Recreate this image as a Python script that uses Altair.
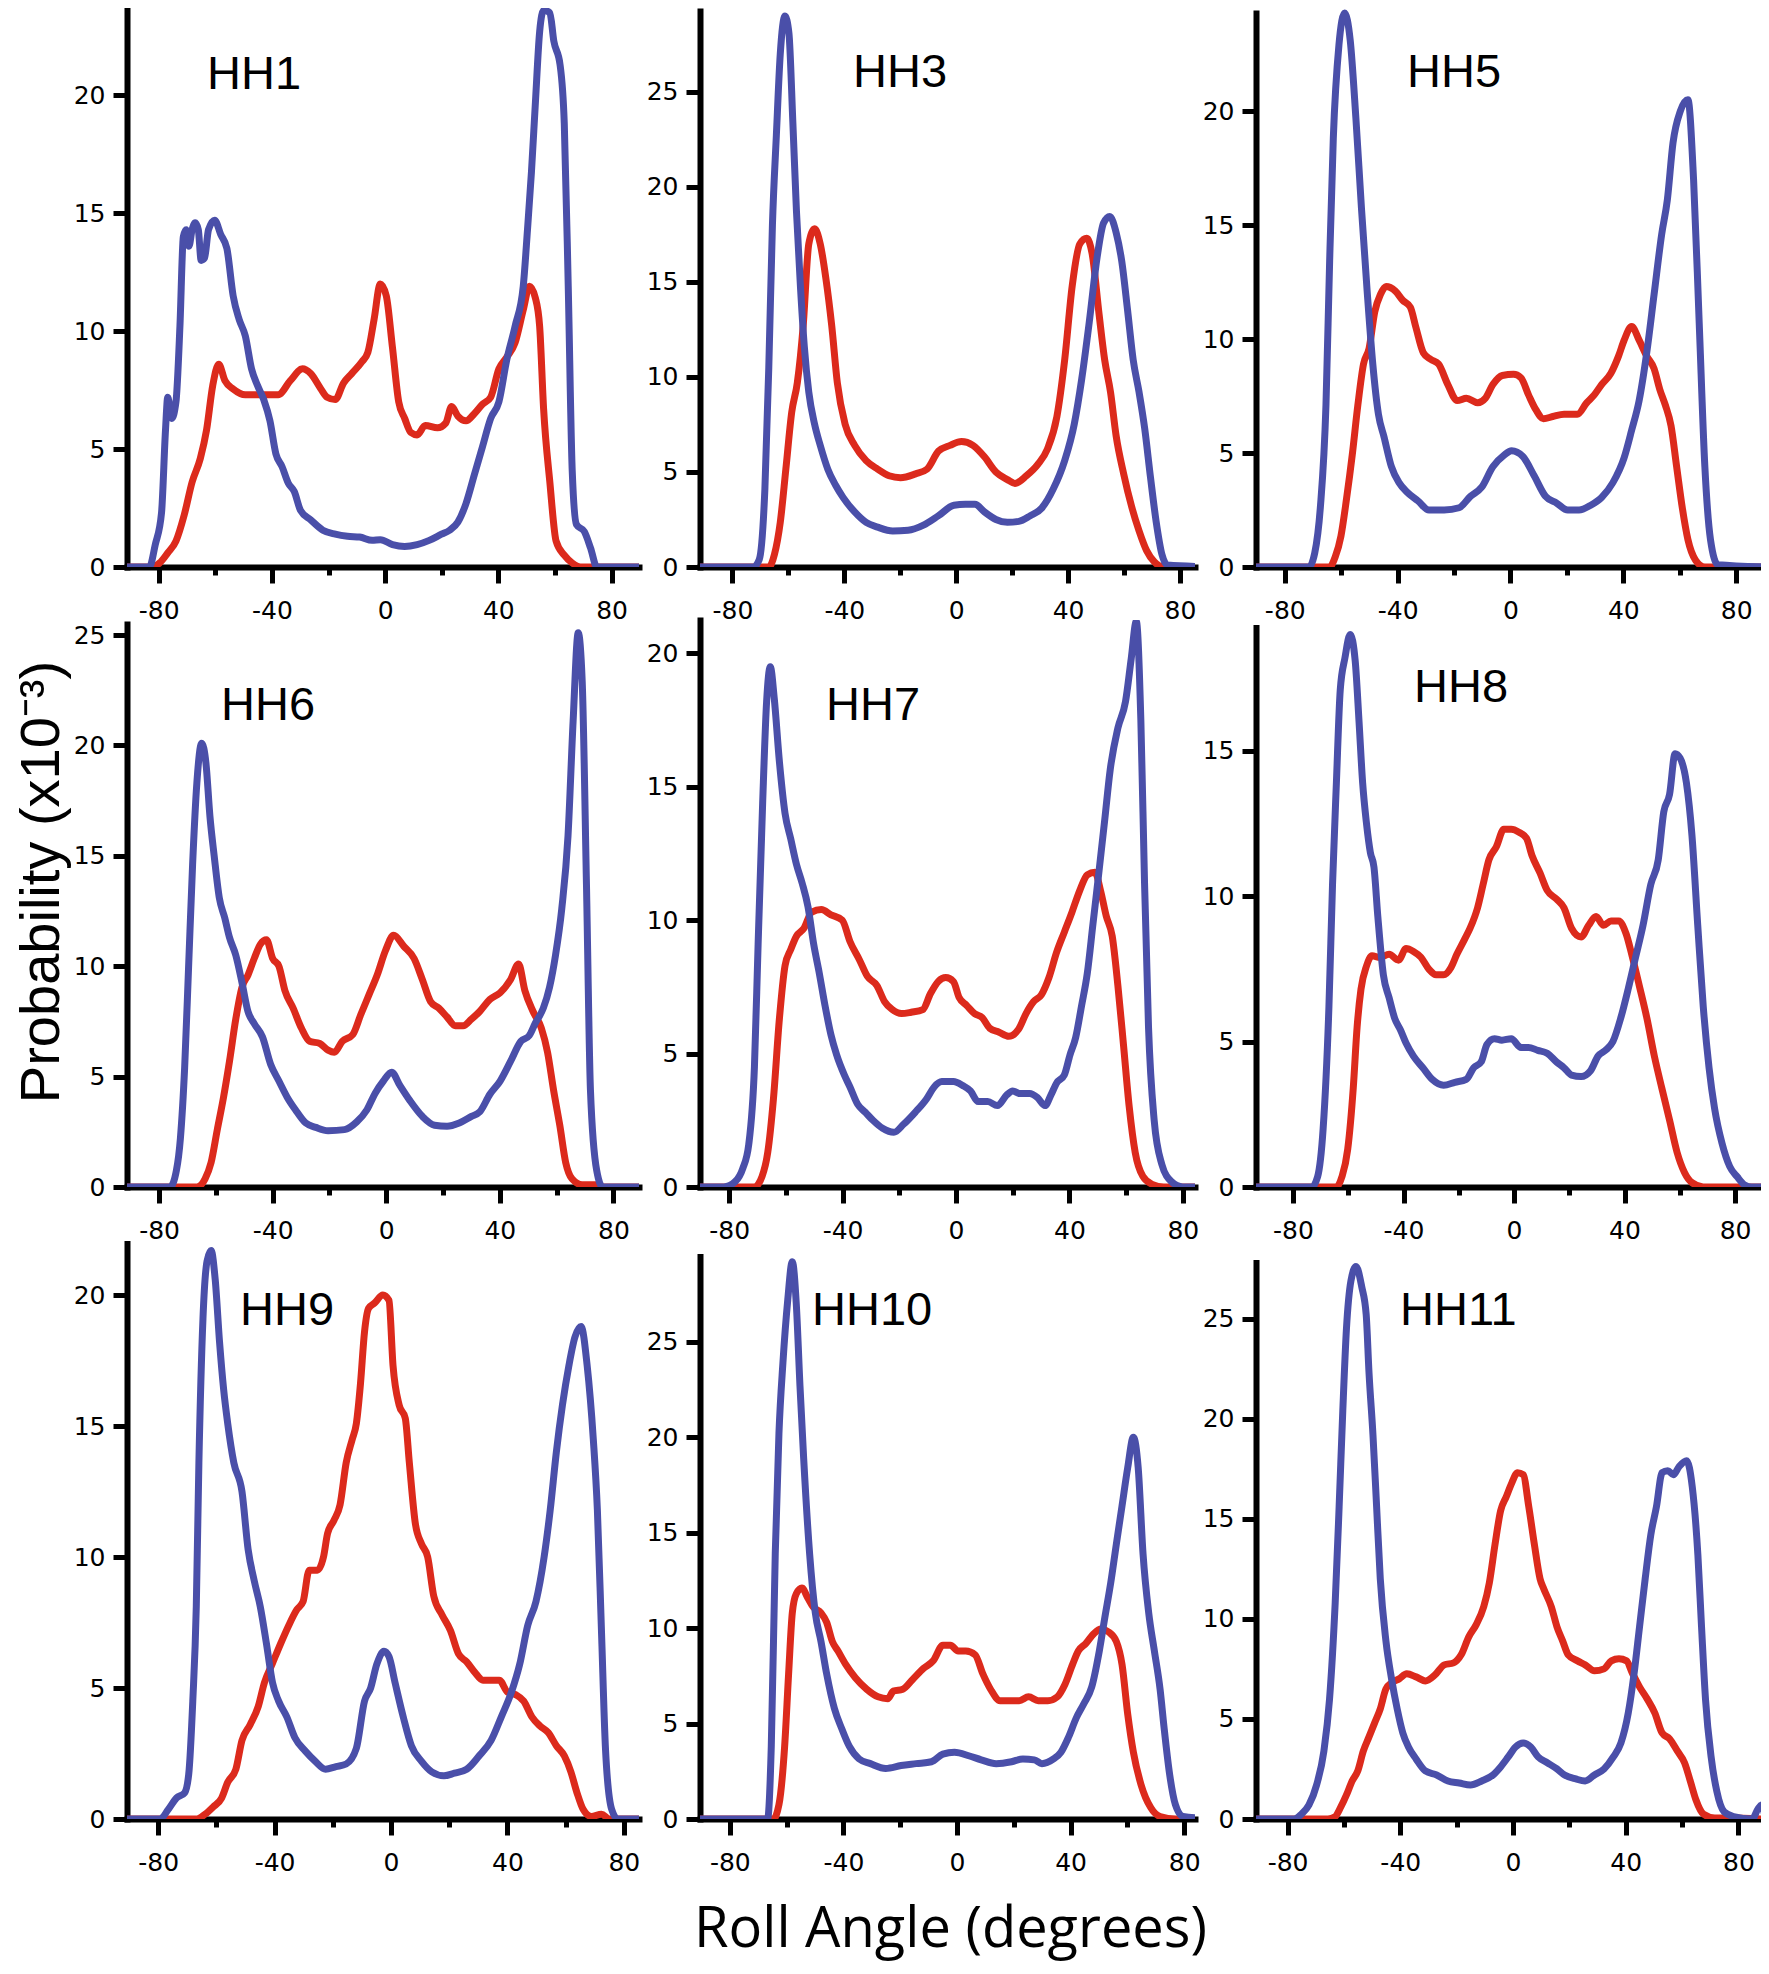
import altair as alt
import pandas as pd

# ---------------- data (roll angle in degrees, probability x10^-3) ----------------
hh1_blue_x = [-92, -83.3, -81.2, -79, -77.6, -76.8, -75.4, -73.9, -72.5, -71.3, -70.3, -69.3, -68.2, -67.1, -66, -65, -63.8, -62.4, -60.2, -58.1, -55.9, -53.7, -51.6, -49.4, -47.2, -45.1, -42.9, -40.7, -38.6, -36.4, -34.2, -32.1, -29.9, -26.3, -22, -17.6, -13.3, -9, -4.6, -1.7, 2.6, 6.9, 11.3, 15.6, 19.9, 22.8, 25.7, 28.6, 31.5, 34.4, 37.3, 40.2, 43, 45.9, 48.8, 50.3, 51.7, 53.1, 54.6, 56, 58.2, 59.6, 61.8, 63.3, 64.7, 66.1, 67.6, 70.4, 72.6, 74.8, 92]
hh1_blue_y = [0, 0, 0.95, 2.3, 5.8, 7.2, 6.3, 7.0, 10.2, 14.0, 14.3, 13.6, 14.3, 14.6, 14.3, 13.0, 13.1, 14.3, 14.7, 14.1, 13.5, 11.5, 10.5, 9.8, 8.4, 7.7, 7.1, 6.2, 4.8, 4.25, 3.55, 3.2, 2.4, 2.0, 1.56, 1.39, 1.3, 1.27, 1.13, 1.16, 0.95, 0.87, 0.95, 1.13, 1.39, 1.56, 1.9, 2.7, 3.9, 5.1, 6.3, 7.0, 8.8, 10.2, 11.9, 14.3, 16.75, 19.7, 22.7, 23.6, 23.5, 22.3, 21.3, 18.8, 11.9, 4.1, 1.8, 1.5, 0.8, 0, 0]
hh1_red_x = [-92, -82.6, -79.7, -76.8, -73.9, -71, -68.2, -65.3, -63.1, -60.9, -58.8, -56.6, -53.7, -49.4, -43.6, -37.8, -33.5, -29.2, -26.3, -22.7, -20.5, -17.6, -14.7, -11.8, -8.2, -6.1, -3.9, -1.7, 0.4, 2.6, 4.8, 6.9, 9.1, 11.3, 14.2, 18.5, 21.4, 23.5, 25.7, 28.6, 31.5, 34.4, 37.3, 40.2, 43, 45.9, 48.8, 51, 53.1, 54.6, 56, 58.2, 60.4, 63.3, 66.1, 69, 92]
hh1_red_y = [0, 0, 0.17, 0.6, 1.1, 2.2, 3.6, 4.6, 5.8, 7.7, 8.6, 7.9, 7.55, 7.3, 7.3, 7.3, 7.9, 8.4, 8.2, 7.55, 7.2, 7.1, 7.8, 8.2, 8.7, 9.1, 10.5, 12.0, 11.5, 9.3, 7.0, 6.3, 5.7, 5.6, 6.0, 5.9, 6.1, 6.8, 6.4, 6.2, 6.5, 6.9, 7.2, 8.4, 8.9, 9.5, 10.9, 11.9, 11.4, 10.2, 6.7, 3.6, 1.1, 0.5, 0.17, 0, 0]

hh3_blue_x = [-92, -72.5, -70.4, -68.4, -67, -65.7, -64.3, -62.9, -61.2, -59.8, -58.4, -57.1, -55.7, -54.3, -52.7, -50.6, -48.6, -45.9, -43.1, -40.4, -36.3, -32.2, -28.1, -22.7, -17.2, -11.7, -6.3, -0.8, 3.3, 6.7, 10.1, 14.2, 18.3, 22.4, 26.5, 30.6, 34.7, 38.8, 42.2, 44.9, 47.6, 50.4, 52.7, 54.9, 57.2, 59.2, 61.3, 63.3, 65.4, 67.4, 69.5, 71.5, 73.6, 75.6, 92]
hh3_blue_y = [0, 0, 0.4, 4.1, 10.5, 18, 22.7, 27, 29, 28.1, 23.4, 18.7, 14.8, 11.6, 9.2, 7.5, 6.4, 5.15, 4.3, 3.65, 2.9, 2.35, 2.1, 1.9, 1.93, 2.2, 2.7, 3.25, 3.3, 3.3, 2.9, 2.5, 2.35, 2.4, 2.7, 3.1, 4.1, 5.6, 7.5, 9.9, 12.9, 16.3, 18.1, 18.45, 17.6, 16.1, 13.5, 10.9, 9.2, 7.3, 4.7, 2.4, 0.65, 0.1, 0]
hh3_red_x = [-92, -67, -65, -62.9, -60.9, -58.8, -56.8, -54.7, -52.7, -50.6, -48.6, -46.6, -44.5, -42.5, -39.7, -36.3, -32.2, -28.1, -24, -19.9, -14.5, -10.4, -6.3, -2.2, 1.9, 6, 10.1, 14.2, 18.3, 21, 25.1, 29.2, 32.6, 36, 38.8, 41.5, 44.2, 46.7, 48.6, 51.1, 53.1, 55.2, 57.2, 59.9, 62.7, 65.4, 68.1, 70.9, 74.3, 92]
hh3_red_y = [0, 0, 0.65, 2.35, 5.15, 8.15, 9.7, 12.7, 17, 17.8, 17, 15.2, 12.7, 9.7, 7.5, 6.4, 5.6, 5.15, 4.8, 4.7, 4.9, 5.15, 6.1, 6.4, 6.6, 6.4, 5.8, 5.0, 4.6, 4.4, 4.8, 5.4, 6.2, 7.9, 10.9, 14.8, 17.0, 17.3, 16.5, 13.3, 10.9, 9.2, 6.9, 4.9, 3.2, 1.9, 0.86, 0.26, 0, 0]

hh5_blue_x = [-92, -71.4, -69.4, -67.4, -65.4, -64.1, -62.8, -60.8, -58.8, -56.8, -54.8, -52.8, -50.8, -48.8, -46.8, -44.8, -42.2, -39.5, -36.8, -32.8, -28.9, -23.5, -18.2, -14.2, -10.2, -6.25, -2.3, 0.4, 4.4, 8.4, 12.4, 16.4, 20.3, 24.3, 28.3, 32.3, 36.3, 40.3, 42.95, 45.6, 48.3, 50.9, 53.6, 55.6, 57.6, 60.2, 62.9, 64.9, 66.9, 68.9, 70.9, 73.5, 92]
hh5_blue_y = [0, 0, 0.6, 2.6, 7.1, 13.4, 18.8, 22.9, 24.3, 23.1, 19.7, 15.7, 12.1, 8.9, 6.7, 5.7, 4.4, 3.7, 3.3, 2.9, 2.5, 2.5, 2.6, 3.1, 3.5, 4.4, 4.9, 5.1, 4.85, 4.0, 3.1, 2.8, 2.5, 2.5, 2.7, 3.05, 3.7, 4.8, 6.0, 7.3, 9.4, 11.95, 14.6, 16.1, 18.6, 20, 20.5, 17, 10.7, 4.4, 1.2, 0.1, 0]
hh5_red_x = [-92, -64.1, -62.1, -60.1, -58.1, -56.1, -54.1, -52.1, -50.1, -48.1, -46.1, -44.1, -40.8, -38.2, -35.5, -33.5, -30.9, -28.2, -25.5, -22.2, -18.9, -15.6, -11.6, -8.9, -6.25, -2.9, 1.1, 3.7, 6.4, 9, 11.7, 15, 19, 23.7, 27, 29.7, 32.3, 35.6, 38.3, 40.3, 42.95, 45.6, 48.3, 50.9, 52.9, 54.9, 56.9, 58.9, 60.9, 62.9, 65.6, 68.9, 92]
hh5_red_y = [0, 0, 0.45, 1.35, 3.0, 4.9, 7.1, 8.9, 9.6, 11.2, 11.95, 12.3, 12.1, 11.7, 11.4, 10.5, 9.4, 9.1, 8.9, 8.0, 7.3, 7.4, 7.2, 7.4, 8.0, 8.4, 8.45, 8.3, 7.55, 6.9, 6.5, 6.6, 6.7, 6.7, 7.2, 7.55, 8.0, 8.5, 9.25, 9.95, 10.55, 9.95, 9.25, 8.7, 7.8, 7.1, 6.2, 4.4, 2.6, 1.2, 0.3, 0, 0]

hh6_blue_x = [-92, -76.1, -73.9, -72.5, -71, -69.6, -68.2, -66.7, -65, -63.5, -62.1, -60.6, -58.8, -56.9, -55.2, -53, -50.8, -48.7, -46.5, -43.6, -40.7, -37.8, -34.9, -32, -28.4, -24.8, -20.5, -14.7, -10.4, -6.8, -3.9, -1, 1.9, 4.8, 8.4, 12.7, 17, 21.4, 25.7, 30, 32.9, 36.5, 40.1, 43.8, 47.4, 50.3, 52.4, 55.3, 57.5, 59.6, 61.8, 64, 65.8, 67.6, 69, 70.5, 71.9, 74.1, 76.2, 92]
hh6_blue_y = [0, 0, 0.75, 2.2, 5.4, 10, 14.6, 18.3, 20.1, 19.2, 16.8, 15, 13.1, 12.2, 11.3, 10.5, 9.25, 7.95, 7.4, 6.8, 5.55, 4.8, 4.07, 3.5, 2.9, 2.7, 2.55, 2.6, 2.95, 3.5, 4.25, 4.8, 5.2, 4.6, 3.9, 3.2, 2.8, 2.75, 2.9, 3.2, 3.4, 4.2, 4.8, 5.7, 6.6, 6.85, 7.4, 8.1, 9.05, 10.5, 12.6, 15.9, 21.1, 25.1, 22.9, 13.7, 4.4, 0.75, 0, 0]
hh6_red_x = [-92, -66.7, -63.8, -61.7, -59.5, -57.3, -55.2, -53, -50.8, -48.7, -46.5, -44.3, -42.2, -40, -37.8, -35.7, -32.8, -29.9, -27, -23.4, -20.5, -18.3, -15.5, -11.8, -9, -6.1, -3.2, -0.3, 2.6, 6.2, 9.8, 12.7, 15.6, 18.5, 21.4, 24.3, 27.1, 30, 32.9, 36.5, 40.1, 43.8, 46.6, 48.8, 51.7, 54.6, 56.8, 58.9, 61.1, 63.2, 65.4, 69, 74.8, 76, 92]
hh6_red_y = [0, 0, 0.37, 1.1, 2.6, 4.07, 5.7, 7.6, 9.05, 9.6, 10.35, 11, 11.2, 10.35, 10, 8.9, 8.1, 7.2, 6.6, 6.5, 6.2, 6.1, 6.6, 6.9, 7.8, 8.7, 9.6, 10.7, 11.4, 10.9, 10.35, 9.4, 8.4, 8.1, 7.7, 7.3, 7.3, 7.6, 7.95, 8.5, 8.8, 9.4, 10.1, 8.9, 7.95, 7.2, 6.1, 4.4, 2.8, 1.1, 0.37, 0.1, 0.1, 0, 0]

hh7_blue_x = [-92, -81.9, -77.9, -75.2, -73.1, -71.1, -69.8, -68.2, -66.8, -65.5, -64.1, -62.3, -60.3, -58.3, -56.3, -54.3, -52.2, -50.2, -48.2, -46.2, -44.1, -42.1, -39.4, -37.4, -34.7, -32, -29.3, -25.9, -21.9, -18.5, -14.4, -10.4, -7.7, -5, -0.9, 2.4, 5.1, 7.8, 11.2, 14.6, 17.9, 20, 22.7, 26, 28.7, 31.4, 33.5, 35.5, 38.2, 40.2, 42.2, 44.3, 46.3, 48.3, 50.3, 52.4, 54.4, 57.1, 59.8, 61.8, 63.6, 65.2, 66.5, 67.9, 69.9, 72.6, 76, 80, 92]
hh7_blue_y = [0, 0, 0.2, 0.7, 1.6, 4.5, 9.1, 14.4, 18.2, 19.5, 18.3, 15.95, 14, 13.05, 12.1, 11.4, 10.5, 9.1, 8.0, 6.8, 5.7, 4.95, 4.2, 3.75, 3.1, 2.8, 2.5, 2.2, 2.05, 2.35, 2.8, 3.3, 3.75, 3.95, 3.95, 3.8, 3.6, 3.2, 3.2, 3.05, 3.45, 3.6, 3.5, 3.5, 3.35, 3.05, 3.45, 3.9, 4.2, 4.95, 5.6, 6.8, 8.0, 9.85, 11.7, 13.7, 15.65, 17.2, 18.2, 19.8, 21.2, 17.5, 11.4, 6.0, 2.5, 0.85, 0.2, 0, 0]
hh7_red_x = [-92, -71.1, -68.4, -66.4, -64.4, -62.3, -60.3, -58.3, -56.3, -53.6, -50.9, -47.5, -44.1, -40.1, -37.4, -34, -31.3, -27.9, -25.2, -22.5, -19.2, -15.8, -11.7, -9, -6.3, -3.6, -0.9, 1.1, 3.8, 6.5, 9.2, 11.9, 15.2, 18.6, 22, 24.7, 27.4, 30.1, 32.8, 35.5, 38.2, 40.9, 43.6, 46.3, 49, 51, 53, 55.1, 57.1, 59.1, 61.1, 63.2, 65.9, 69.2, 73.3, 92]
hh7_red_y = [0, 0, 0.4, 1.3, 3.3, 6.3, 8.3, 8.9, 9.4, 9.7, 10.3, 10.4, 10.2, 10.0, 9.2, 8.5, 7.9, 7.55, 6.95, 6.65, 6.5, 6.55, 6.65, 7.25, 7.7, 7.85, 7.7, 7.1, 6.8, 6.5, 6.35, 5.95, 5.8, 5.65, 5.9, 6.5, 6.95, 7.2, 7.85, 8.8, 9.55, 10.3, 11.1, 11.7, 11.8, 11.1, 10.15, 9.4, 7.55, 5.3, 3.0, 1.3, 0.4, 0.1, 0, 0]

hh8_blue_x = [-94, -73.2, -71.1, -69.1, -67, -65.7, -64.3, -62.9, -61.2, -59.3, -57.5, -56.1, -54.8, -53.4, -52, -50.7, -49.3, -47.3, -45.2, -43.2, -41.1, -39.1, -36.4, -33, -29.6, -25.5, -21.4, -17.3, -14.6, -11.9, -9.8, -7.1, -4.4, -1, 2.5, 5.2, 8.6, 12, 15.4, 18.1, 20.8, 24.3, 27.7, 30.4, 33.1, 35.8, 38.6, 41.3, 44, 46.7, 49.5, 52.2, 54.2, 56.3, 58.3, 60.1, 62.4, 64.4, 66.5, 68.5, 70.6, 72.6, 75.3, 78.1, 80.8, 83.5, 86, 92]
hh8_blue_y = [0, 0, 0.35, 2.0, 6.2, 10.4, 13.9, 17.1, 18.2, 19.0, 18.1, 16.0, 13.9, 12.5, 11.5, 11, 9.3, 7.3, 6.5, 5.8, 5.4, 4.95, 4.5, 4.1, 3.7, 3.5, 3.6, 3.7, 4.1, 4.3, 4.9, 5.1, 5.05, 5.1, 4.8, 4.8, 4.7, 4.6, 4.3, 4.1, 3.85, 3.8, 4.0, 4.5, 4.7, 5.0, 5.8, 6.8, 7.9, 9.0, 10.4, 11.25, 12.9, 13.5, 14.9, 14.75, 13.9, 12.1, 9.0, 6.2, 4.1, 2.7, 1.5, 0.7, 0.35, 0.07, 0, 0]
hh8_red_x = [-94, -64.3, -62.3, -60.2, -58.2, -56.8, -55.4, -53.4, -51.4, -48.6, -45.2, -41.8, -39.1, -36.4, -33.7, -30.9, -28.2, -25.5, -22.8, -20.7, -18, -15.9, -13.2, -11.2, -9.1, -6.4, -3.7, -1, 1.8, 4.5, 6.5, 9.4, 12, 15.4, 18.1, 20.8, 24.3, 27, 29.7, 32.4, 35.1, 37.9, 40.6, 42.6, 45.4, 48.1, 50.8, 53.5, 56.3, 59, 61.7, 64.4, 68.5, 92]
hh8_red_y = [0, 0, 0.35, 1.3, 3.4, 5.5, 6.8, 7.6, 7.95, 7.9, 8.0, 7.8, 8.2, 8.1, 7.9, 7.5, 7.3, 7.3, 7.55, 8.0, 8.5, 8.9, 9.6, 10.4, 11.25, 11.7, 12.3, 12.3, 12.2, 12.0, 11.4, 10.8, 10.2, 9.9, 9.6, 8.9, 8.6, 9.0, 9.3, 9.0, 9.15, 9.15, 8.7, 8.0, 6.9, 5.8, 4.5, 3.4, 2.3, 1.2, 0.5, 0.15, 0, 0]

hh9_blue_x = [-92, -79.3, -76.5, -73.7, -70.9, -69.5, -68.1, -66.9, -66, -64.6, -63.2, -61.8, -60.4, -58.9, -57.5, -56.1, -54, -51.2, -49.1, -47, -44.9, -42.8, -40.7, -38.6, -35.8, -33, -29.5, -26, -22.5, -18.9, -15.4, -11.9, -9.1, -7, -4.9, -2.4, -0.7, 1.4, 4.2, 7, 10.5, 14, 18.2, 21.8, 26, 30.2, 34.4, 37.9, 41.4, 44.2, 47, 49.8, 52.6, 54.7, 56.8, 58.9, 61.1, 63.2, 65.3, 67.4, 69.5, 70.9, 72.3, 73.7, 75.8, 77.9, 92]
hh9_blue_y = [0, 0, 0.37, 0.8, 1.0, 1.7, 4.5, 8.1, 13.6, 19.1, 21.3, 21.7, 20.6, 18.2, 16.4, 15.1, 13.6, 12.5, 10.3, 9.1, 8.1, 6.7, 5.2, 4.5, 3.9, 3.1, 2.6, 2.2, 1.9, 2.0, 2.1, 2.7, 4.5, 5.0, 5.9, 6.4, 6.2, 5.2, 3.9, 2.8, 2.2, 1.8, 1.65, 1.75, 1.9, 2.4, 3.0, 3.9, 4.85, 5.9, 7.4, 8.3, 10, 11.8, 14, 15.8, 17.3, 18.4, 18.8, 17.3, 14.5, 11.8, 7.2, 2.65, 0.37, 0, 0]
hh9_red_x = [-92, -66.7, -63.9, -61.1, -58.2, -56.1, -53.3, -51.2, -48.4, -45.6, -43.5, -40.7, -37.9, -35.1, -32.3, -30.2, -28.1, -25.3, -23.2, -21.8, -19.6, -17.5, -15.4, -13.3, -11.9, -10.5, -9.1, -7.7, -5.6, -2.8, -0.7, 0.7, 2.8, 4.9, 6.3, 8.4, 10.5, 12.6, 14.7, 17.5, 20.4, 23.2, 26, 28.8, 31.6, 34.4, 37.2, 40, 42.8, 45.6, 48.4, 51.2, 54, 56.8, 59.6, 61.8, 63.9, 66, 68.8, 72.3, 75.1, 92]
hh9_red_y = [0, 0, 0.18, 0.46, 0.8, 1.4, 1.9, 3.0, 3.6, 4.3, 5.2, 5.95, 6.7, 7.4, 8.0, 8.3, 9.5, 9.5, 10, 10.9, 11.4, 12, 13.6, 14.5, 15.1, 16.6, 18.6, 19.5, 19.7, 20.0, 19.8, 17.3, 15.8, 15.3, 13.6, 11.25, 10.5, 10.0, 8.5, 7.8, 7.2, 6.3, 6.0, 5.6, 5.3, 5.3, 5.3, 4.85, 4.75, 4.5, 3.9, 3.55, 3.3, 2.8, 2.4, 1.8, 1.0, 0.37, 0.1, 0.18, 0, 0]

hh10_blue_x = [-92, -66.7, -65.4, -64, -62.7, -61.3, -59.6, -58, -56.6, -55.3, -54, -51.9, -49.9, -47.9, -45.9, -43.2, -40.5, -37.9, -34.5, -30.5, -25.1, -19.7, -14.4, -9, -5, -0.9, 4.4, 8.5, 13.8, 19.2, 23.2, 27.2, 29.9, 34, 36.6, 39.3, 42, 44.7, 47.4, 50.1, 52.1, 54.1, 56.1, 58.1, 60.1, 62.1, 63.8, 65.5, 67.5, 69.5, 71.5, 72.9, 74.9, 76.9, 79.6, 92]
hh10_blue_y = [0, 0, 3.8, 13.9, 20.2, 23.9, 27.2, 29.2, 27, 22.7, 18.9, 13.9, 10.8, 9.3, 7.6, 5.8, 4.7, 3.8, 3.15, 2.9, 2.65, 2.8, 2.9, 3.0, 3.4, 3.5, 3.3, 3.1, 2.9, 3.0, 3.15, 3.1, 2.9, 3.15, 3.5, 4.3, 5.3, 6.05, 6.9, 8.8, 10.6, 12.35, 14.4, 16.4, 18.4, 20, 18.4, 13.9, 10.8, 8.8, 6.8, 4.8, 2.3, 0.75, 0.13, 0]
hh10_red_x = [-92, -64.7, -62.7, -60.7, -59.3, -58, -56.6, -54.6, -52.6, -50.6, -47.9, -45.9, -43.9, -41.9, -39.2, -35.8, -31.8, -27.8, -24.4, -22.4, -19.1, -15.7, -11.7, -8.3, -5, -2.3, 0.4, 3.1, 6.4, 9.1, 11.8, 15.2, 17.9, 21.9, 25.2, 28.6, 32, 35.3, 38, 40.7, 42.7, 45.4, 48.1, 50.7, 53.4, 56.1, 58.1, 60.1, 62.1, 64.8, 68.2, 71.5, 77, 92]
hh10_red_y = [0, 0, 0.75, 3.8, 7.6, 10.8, 11.8, 12.1, 11.6, 11.1, 10.8, 10.3, 9.3, 8.8, 8.1, 7.4, 6.8, 6.4, 6.3, 6.7, 6.8, 7.3, 7.9, 8.3, 9.1, 9.1, 8.8, 8.8, 8.6, 7.6, 6.8, 6.2, 6.2, 6.2, 6.4, 6.2, 6.2, 6.4, 7.05, 8.1, 8.8, 9.2, 9.7, 9.95, 9.8, 9.3, 8.1, 5.5, 3.5, 1.8, 0.6, 0.13, 0, 0]

hh11_blue_x = [-92, -77.7, -75.1, -72.4, -69.7, -67.1, -65.1, -63.1, -61.7, -60.4, -59.1, -57.5, -55.7, -53.7, -52.1, -51.1, -49.7, -48.4, -47.1, -45.1, -43.1, -41.1, -39.1, -37.1, -34.4, -31.1, -27.1, -23.1, -19.1, -15.1, -11.1, -7.1, -4.4, -1.7, 0.9, 3.6, 6.3, 8.9, 12.3, 15.6, 18.3, 22.3, 25.6, 28.9, 32.3, 35.6, 38.3, 40.9, 42.9, 44.9, 46.9, 48.9, 50.9, 52.9, 54.9, 56.9, 58.9, 61.6, 63.6, 65.6, 66.9, 68.3, 70.3, 72.3, 74.9, 78.3, 84.9, 86.9, 88.3, 89.6, 92]
hh11_blue_y = [0, 0, 0.24, 0.7, 1.7, 3.4, 6.0, 10.8, 15.6, 20.4, 24.5, 26.9, 27.6, 26.6, 25.2, 22.3, 19.2, 15.6, 12, 8.9, 7.0, 5.5, 4.3, 3.6, 3.0, 2.4, 2.2, 1.9, 1.8, 1.7, 1.9, 2.2, 2.6, 3.1, 3.6, 3.8, 3.6, 3.1, 2.8, 2.5, 2.2, 2.0, 1.9, 2.2, 2.5, 3.1, 3.8, 5.3, 7.2, 9.6, 12, 14.2, 15.6, 17.3, 17.4, 17.2, 17.6, 17.9, 16.6, 13.2, 9.6, 6.0, 3.1, 1.4, 0.36, 0.12, 0, 0.5, 0.7, 0.1, 0]
hh11_red_x = [-92, -65.7, -63.1, -61.1, -59.1, -57.1, -55.1, -53.1, -51.1, -49.1, -47.1, -45.1, -43.1, -40.4, -37.7, -34.4, -31.1, -27.7, -24.4, -21.1, -18.4, -15.7, -13.1, -10.4, -8.4, -6.4, -4.4, -2.4, -0.4, 1.6, 3.6, 5.6, 7.6, 9.6, 10.9, 13.6, 15.6, 17.6, 19.6, 22.9, 25.6, 28.9, 32.3, 34.9, 37.6, 40.3, 42.3, 44.9, 47.6, 50.3, 52.9, 55.6, 58.3, 60.9, 62.9, 64.9, 67.6, 71.6, 79.6, 89, 92]
hh11_red_y = [0, 0, 0.12, 0.6, 1.2, 1.9, 2.4, 3.4, 4.1, 4.8, 5.5, 6.5, 6.8, 7.0, 7.25, 7.1, 6.9, 7.2, 7.7, 7.8, 8.2, 9.1, 9.7, 10.6, 11.8, 13.7, 15.4, 16.1, 16.8, 17.3, 17.2, 15.6, 13.7, 12, 11.5, 10.6, 9.6, 8.9, 8.2, 7.9, 7.7, 7.4, 7.5, 7.9, 8.0, 7.9, 7.3, 6.6, 6.0, 5.3, 4.3, 4.0, 3.4, 2.8, 1.9, 0.96, 0.24, 0.05, 0.05, 0, 0]

PANEL_NAMES = ["HH1", "HH3", "HH5", "HH6", "HH7", "HH8", "HH9", "HH10", "HH11"]
BLUE_X = [hh1_blue_x, hh3_blue_x, hh5_blue_x, hh6_blue_x, hh7_blue_x, hh8_blue_x, hh9_blue_x, hh10_blue_x, hh11_blue_x]
BLUE_Y = [hh1_blue_y, hh3_blue_y, hh5_blue_y, hh6_blue_y, hh7_blue_y, hh8_blue_y, hh9_blue_y, hh10_blue_y, hh11_blue_y]
RED_X = [hh1_red_x, hh3_red_x, hh5_red_x, hh6_red_x, hh7_red_x, hh8_red_x, hh9_red_x, hh10_red_x, hh11_red_x]
RED_Y = [hh1_red_y, hh3_red_y, hh5_red_y, hh6_red_y, hh7_red_y, hh8_red_y, hh9_red_y, hh10_red_y, hh11_red_y]

X_MAJOR = [-80, -40, 0, 40, 80]
X_MINOR = [-60, -20, 20, 60]
Y_TICKS = [0, 5, 10, 15, 20, 25]

# ---------------- layout / style ----------------
X_DOMAINS = [[-91.2, 89.7], [-91.6, 85.4], [-90.2, 88.8],
             [-91.3, 89.0], [-90.3, 84.3], [-93.4, 89.4],
             [-90.7, 85.2], [-90.5, 83.8], [-91.2, 88.0]]
Y_MAX = [23.7, 29.26, 24.3, 25.5, 21.25, 19.24, 21.97, 29.47, 27.8]
PLOT_H = [559, 556, 554, 563, 567, 559.5, 575.5, 562.5, 556.5]
LABEL_POS = [(80, 80.5), (153, 78.5), (151, 78.5),
             (94, 99.5), (126, 99.5), (158, 81.5),
             (113, 84.5), (112, 84.5), (144, 84.5)]
COL_W = [512, 495, 505]
ROW_H = [559, 567, 579]

BLUE = "#4A4FA9"
RED = "#DC2A1C"
TICK_FONT = "DejaVu Sans"


def make_panel(i):
    name = PANEL_NAMES[i]
    r, c = divmod(i, 3)
    W, H = COL_W[c], ROW_H[r]
    h = PLOT_H[i]
    bx, by, rx, ry = BLUE_X[i], BLUE_Y[i], RED_X[i], RED_Y[i]
    assert len(bx) == len(by), name + " blue"
    assert len(rx) == len(ry), name + " red"
    df = pd.DataFrame({
        "angle": list(bx) + list(rx),
        "prob": list(by) + list(ry),
        "series": ["blue"] * len(bx) + ["red"] * len(rx),
    })

    xa = dict(
        values=sorted(X_MAJOR + X_MINOR),
        labelExpr="datum.value % 40 === 0 ? '' + datum.value : ''",
        tickSize={"condition": {"test": "datum.value % 40 === 0", "value": 16}, "value": 8},
        tickWidth=5, tickColor="black",
        domainWidth=6, domainColor="black", domainCap="square",
        labelFont=TICK_FONT, labelFontSize=25, labelColor="black",
        labelPadding=15, labelFlush=False, labelOverlap=False, grid=False,
    )
    if name == "HH10":
        xa.update(title="Roll Angle (degrees)", titleX=250, titleY=127,
                  titleAlign="center", titleBaseline="alphabetic", titleAngle=0,
                  titleFont="Open Sans", titleFontSize=56, titleFontWeight="normal",
                  titleColor="black")
    else:
        xa["title"] = None

    ya = dict(
        values=[v for v in Y_TICKS if v <= Y_MAX[i]],
        tickSize=14, tickWidth=5, tickColor="black",
        domainWidth=6, domainColor="black", domainCap="square",
        labelFont=TICK_FONT, labelFontSize=25, labelColor="black",
        labelPadding=8, labelFlush=False, labelOverlap=False, grid=False,
    )
    if name == "HH6":
        ya.update(title="Probability (x10\u207b\u00b3)", titleX=-86, titleY=261.5,
                  titleAngle=270, titleAlign="center", titleBaseline="middle",
                  titleFont="Liberation Sans", titleFontSize=56, titleFontWeight="normal",
                  titleColor="black")
    else:
        ya["title"] = None

    base = alt.Chart(df).encode(
        x=alt.X("angle:Q", scale=alt.Scale(domain=X_DOMAINS[i], nice=False, zero=False),
                axis=alt.Axis(**xa)),
        y=alt.Y("prob:Q", scale=alt.Scale(domain=[0, Y_MAX[i]], range=[H, H - h],
                                          nice=False, zero=False),
                axis=alt.Axis(**ya)),
    )
    red = base.transform_filter(alt.datum.series == "red").mark_line(
        color=RED, strokeWidth=7, clip=True, strokeJoin="round", interpolate="monotone")
    blue = base.transform_filter(alt.datum.series == "blue").mark_line(
        color=BLUE, strokeWidth=7, clip=True, strokeJoin="round", interpolate="monotone")
    lx, ly = LABEL_POS[i]
    label = alt.Chart(pd.DataFrame({"t": [name]})).mark_text(
        align="left", baseline="alphabetic",
        font="Liberation Sans Narrow, Liberation Sans, Arial", fontSize=47, color="black",
    ).encode(x=alt.value(lx), y=alt.value(ly), text="t:N")
    return alt.layer(red, blue, label).properties(width=W, height=H)


panels = [make_panel(i) for i in range(9)]

chart = alt.concat(*panels, columns=3).properties(
    spacing={"row": 53, "column": 61},
    bounds="flush",
    align="each",
    padding={"left": 4, "top": 0, "right": 0, "bottom": 6},
    background="white",
).configure_view(stroke=None)

chart.save("out.html", embed_options={"renderer": "svg", "actions": False})
